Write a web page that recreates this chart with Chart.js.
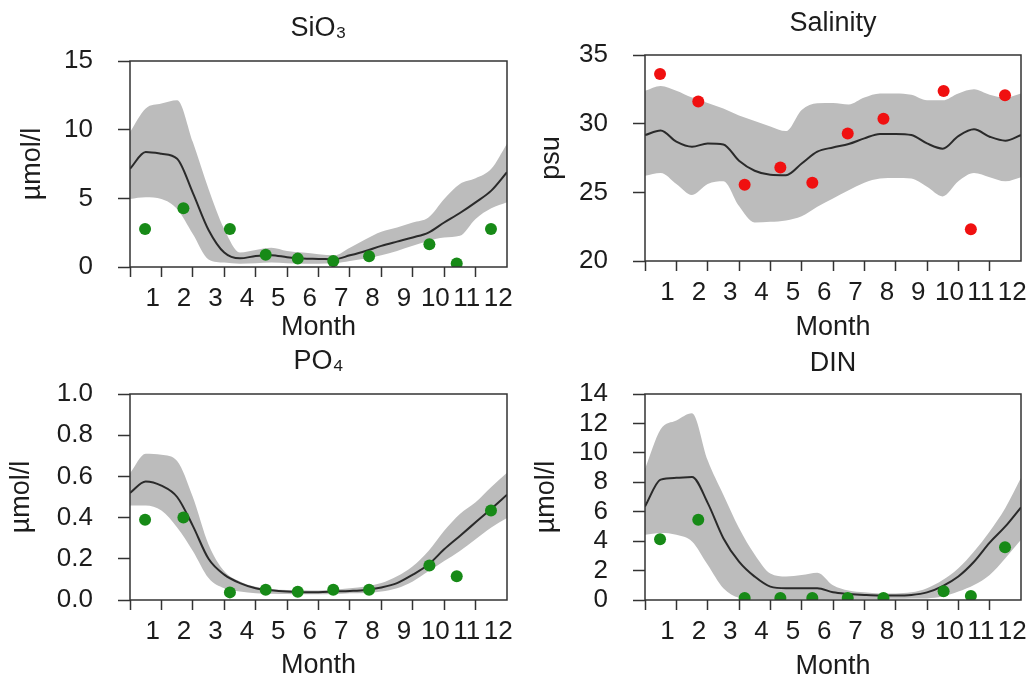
<!DOCTYPE html>
<html><head><meta charset="utf-8">
<script src="https://cdn.jsdelivr.net/npm/chart.js@4.4.1/dist/chart.umd.min.js"></script>
<style>
html,body{margin:0;padding:0;background:#fff;overflow:hidden;width:1031px;height:678px;}
canvas{position:absolute;left:0;top:0;}
</style></head><body>
<canvas id="cSi" width="1031" height="720"></canvas>
<canvas id="cSal" width="1031" height="720"></canvas>
<canvas id="cPo" width="1031" height="720"></canvas>
<canvas id="cDin" width="1031" height="720"></canvas>
<script>
// ---------- data ----------
const months = [0,0.5,1,1.5,2,2.5,3,3.5,4,4.5,5,5.5,6,6.5,7,7.5,8,8.5,9,9.5,10,10.5,11,11.5,12];
const obsMonths = [0.48,1.70,3.18,4.32,5.34,6.47,7.61,9.53,10.40,11.49];
const monthTicks = [0,1,2,3,4,5,6,7,8,9,10,11,12];
const monthLabels = ['','1','2','3','4','5','6','7','8','9','10','11','12'];

const sioTicks = [0,5,10,15];
const sioLabels = ['0','5','10','15'];
const sioMean  = [7.15,8.37,8.24,7.88,5.4,2.7,1.05,0.63,0.8,0.86,0.71,0.61,0.59,0.56,0.85,1.17,1.54,1.85,2.15,2.51,3.24,3.93,4.71,5.56,6.9];
const sioUpper = [9.83,11.54,11.9,12.15,9.1,5.68,2.76,1.05,1.24,1.41,1.17,1.05,0.93,0.85,1.41,2.02,2.56,2.88,3.24,3.6,4.95,6.05,6.46,7.15,8.98];
const sioLower = [4.95,5.07,4.95,4.22,2.4,0.55,0.32,0.24,0.27,0.32,0.27,0.24,0.24,0.27,0.44,0.61,0.85,1.17,1.54,1.9,2.15,2.27,3.5,4.27,4.71];
const sioObs   = [2.77,4.27,2.77,0.9,0.61,0.43,0.78,1.65,0.25,2.77];

const salTicks = [20,25,30,35];
const salLabels = ['20','25','30','35'];
const salMean  = [29.17,29.5,28.69,28.32,28.56,28.49,27.3,26.57,26.28,26.25,27.1,27.96,28.27,28.52,28.93,29.25,29.25,29.17,28.56,28.18,29.1,29.59,29.05,28.76,29.17];
const salUpper = [32.4,32.75,32.4,31.9,31.5,31.1,30.6,30.2,29.8,29.46,31.0,31.48,31.5,31.4,31.9,32.2,32.2,32.1,31.7,31.7,32.2,32.5,32.1,31.9,32.2];
const salLower = [26.2,26.4,25.6,24.8,25.6,25.8,24.0,22.8,22.85,22.95,23.25,23.95,24.55,25.15,25.7,26.0,26.05,26.0,25.4,24.7,25.8,26.4,26.1,25.8,26.1];
const salObs   = [33.62,31.61,25.55,26.81,25.69,29.29,30.36,32.38,22.31,32.07];

const po4Ticks = [0,0.2,0.4,0.6,0.8,1.0];
const po4Labels = ['0.0','0.2','0.4','0.6','0.8','1.0'];
const po4Mean  = [0.52,0.575,0.555,0.50,0.36,0.20,0.123,0.082,0.057,0.047,0.041,0.038,0.038,0.041,0.044,0.049,0.061,0.082,0.123,0.172,0.246,0.311,0.377,0.443,0.511];
const po4Upper = [0.615,0.71,0.705,0.675,0.50,0.27,0.14,0.09,0.064,0.052,0.048,0.047,0.046,0.051,0.057,0.066,0.082,0.115,0.164,0.238,0.336,0.418,0.475,0.549,0.618];
const po4Lower = [0.459,0.459,0.434,0.352,0.238,0.107,0.057,0.041,0.033,0.03,0.029,0.028,0.028,0.029,0.033,0.034,0.041,0.057,0.09,0.139,0.189,0.238,0.295,0.352,0.398];
const po4Obs   = [0.39,0.40,0.037,0.05,0.04,0.05,0.05,0.167,0.115,0.434];

const dinTicks = [0,2,4,6,8,10,12,14];
const dinLabels = ['0','2','4','6','8','10','12','14'];
const dinMean  = [6.36,8.18,8.30,8.36,6.6,4.2,2.61,1.59,0.91,0.80,0.80,0.80,0.52,0.41,0.34,0.30,0.30,0.34,0.52,0.95,1.6,2.6,3.9,5.0,6.3];
const dinUpper = [8.9,11.6,12.2,12.7,9.5,7.16,4.9,3.1,1.8,1.6,1.7,1.86,1.0,0.64,0.52,0.45,0.45,0.52,0.8,1.36,2.16,3.3,4.66,6.25,8.3];
const dinLower = [4.43,4.55,4.43,3.98,2.39,0.80,0.16,0.07,0.05,0.05,0.05,0.05,0.07,0.07,0.07,0.07,0.08,0.1,0.11,0.23,0.57,1.02,1.70,2.84,4.09];
const dinObs   = [4.13,5.45,0.14,0.14,0.14,0.14,0.13,0.6,0.28,3.58];

// ---------- style ----------
const FONT = "'Liberation Sans', Arial, Helvetica, sans-serif";
const INK = '#1c1c1c';
const FRAME = '#333333';
const BAND = '#bcbcbc';
const GREEN = '#178a17';
const RED = '#f01010';
const CW = 1031, CH = 720;
const TICK_FS = 26, TITLE_FS = 27, LH = 1.2;
const HALF = TITLE_FS * LH / 2;
const Y_W = 130, X_H = 90;

const frame = {
  id: 'frame',
  afterDatasetsDraw(chart) {
    const {ctx, chartArea: a} = chart;
    ctx.save();
    ctx.strokeStyle = FRAME;
    ctx.lineWidth = 1.5;
    ctx.strokeRect(a.left, a.top, a.right - a.left, a.bottom - a.top);
    ctx.restore();
  }
};

function pts(xs, ys) { return xs.map((x, i) => ({x: x, y: ys[i]})); }

function panel(id, p) {
  const tPadTop = p.titleY - p.padTop - HALF;
  const tPadBottom = p.box.t - p.padTop - tPadTop - TITLE_FS * LH;
  new Chart(document.getElementById(id), {
    data: {
      datasets: [
        { type: 'scatter', data: pts(obsMonths, p.obs), backgroundColor: p.dot, borderWidth: 0,
          pointRadius: 6, pointHoverRadius: 6, order: 0 },
        { type: 'line', data: pts(months, p.mean), borderColor: '#2a2a2a', borderWidth: 2,
          pointRadius: 0, cubicInterpolationMode: 'monotone', fill: false, order: 1 },
        { type: 'line', data: pts(months, p.upper), borderColor: 'rgba(0,0,0,0)', borderWidth: 0,
          pointRadius: 0, cubicInterpolationMode: 'monotone', fill: '+1', backgroundColor: BAND, order: 2 },
        { type: 'line', data: pts(months, p.lower), borderColor: 'rgba(0,0,0,0)', borderWidth: 0,
          pointRadius: 0, cubicInterpolationMode: 'monotone', fill: false, order: 3 }
      ]
    },
    options: {
      responsive: false, animation: false, events: [],
      layout: { padding: { left: p.box.l - Y_W, right: CW - p.box.r, top: p.padTop, bottom: CH - p.box.b - X_H } },
      plugins: {
        legend: { display: false }, tooltip: { enabled: false },
        title: { display: true, text: p.title, fullSize: false, color: INK,
          font: { family: FONT, size: TITLE_FS, weight: 'normal', lineHeight: LH },
          padding: { top: tPadTop, bottom: tPadBottom } }
      },
      scales: {
        x: {
          type: 'linear', position: 'bottom', min: 0, max: 12,
          afterBuildTicks: s => { s.ticks = monthTicks.map(v => ({value: v})); },
          afterFit: s => { s.height = X_H; s.paddingLeft = 0; s.paddingRight = 0; },
          grid: { display: true, drawOnChartArea: false, drawTicks: true, tickLength: 10, tickWidth: 1.5,
            tickColor: c => (c.tick && c.tick.value === 12) ? 'rgba(0,0,0,0)' : FRAME },
          border: { display: false },
          ticks: { autoSkip: false, maxRotation: 0, minRotation: 0, padding: 6, labelOffset: -8.8,
            color: INK, font: { family: FONT, size: TICK_FS }, callback: (v, i) => monthLabels[i] },
          title: { display: true, text: 'Month', color: INK, font: { family: FONT, size: TITLE_FS, lineHeight: LH },
            padding: { top: 0, bottom: p.box.b + X_H - HALF - p.monthY } }
        },
        y: {
          type: 'linear', position: 'left', min: p.yTicks[0], max: p.yTicks[p.yTicks.length - 1],
          afterBuildTicks: s => { s.ticks = p.yTicks.map(v => ({value: v})); },
          afterFit: s => { s.width = Y_W; },
          grid: { display: true, drawOnChartArea: false, drawTicks: true, tickLength: 12, tickWidth: 1.5, tickColor: FRAME },
          border: { display: false },
          ticks: { autoSkip: false, padding: 25, color: INK, font: { family: FONT, size: TICK_FS },
            callback: (v, i) => p.yLabels[i] },
          title: { display: true, text: p.yTitle, color: INK, font: { family: FONT, size: TITLE_FS, lineHeight: LH },
            padding: { top: p.yTitleX - (p.box.l - Y_W) - HALF, bottom: 0 } }
        }
      }
    },
    plugins: [frame]
  });
}

panel('cSi', { title: 'SiO₃', yTitle: 'µmol/l', yTicks: sioTicks, yLabels: sioLabels,
  mean: sioMean, upper: sioUpper, lower: sioLower, obs: sioObs, dot: GREEN,
  box: {l: 130, t: 61, r: 507, b: 267}, padTop: 0, titleY: 29, yTitleX: 33, monthY: 328 });
panel('cSal', { title: 'Salinity', yTitle: 'psu', yTicks: salTicks, yLabels: salLabels,
  mean: salMean, upper: salUpper, lower: salLower, obs: salObs, dot: RED,
  box: {l: 645, t: 55, r: 1021, b: 261}, padTop: 0, titleY: 24, yTitleX: 552, monthY: 327.5 });
panel('cPo', { title: 'PO₄', yTitle: 'µmol/l', yTicks: po4Ticks, yLabels: po4Labels,
  mean: po4Mean, upper: po4Upper, lower: po4Lower, obs: po4Obs, dot: GREEN,
  box: {l: 130, t: 394, r: 507, b: 600}, padTop: 339, titleY: 362, yTitleX: 22, monthY: 666 });
panel('cDin', { title: 'DIN', yTitle: 'µmol/l', yTicks: dinTicks, yLabels: dinLabels,
  mean: dinMean, upper: dinUpper, lower: dinLower, obs: dinObs, dot: GREEN,
  box: {l: 645, t: 394, r: 1021, b: 600}, padTop: 339, titleY: 364, yTitleX: 547, monthY: 667 });
</script>
</body></html>
